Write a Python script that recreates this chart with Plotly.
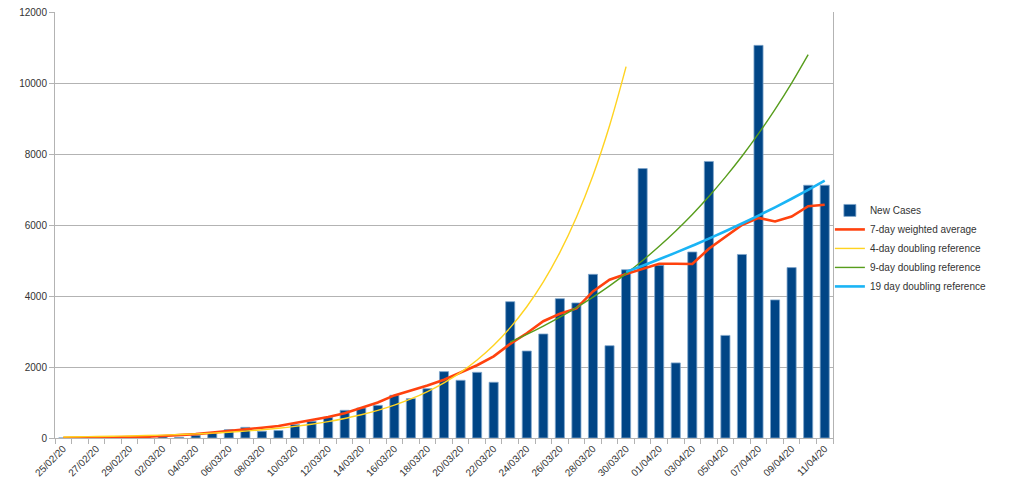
import pandas as pd
import plotly.graph_objects as go

dates = [d.strftime("%Y-%m-%d") for d in pd.date_range("2020-02-25", "2020-04-11", freq="D")]

new_cases = [2, 4, 20, 19, 43, 30, 61, 21, 76, 141, 236, 300, 190, 210, 376, 470, 583, 780, 845, 920,
             1203, 1110, 1390, 1870, 1625, 1850, 1570, 3840, 2450, 2930, 3925, 3805, 4610, 2600, 4740,
             7590, 4865, 2115, 5240, 7790, 2890, 5170, 11060, 3890, 4800, 7120, 7120]

weighted_avg = [2, 5, 12, 18, 25, 35, 55, 75, 110, 150, 190, 240, 290, 340, 420, 500, 590, 700, 840,
                1000, 1200, 1330, 1480, 1640, 1850, 2050, 2300, 2650, 2950, 3290, 3500, 3650, 4130,
                4460, 4620, 4770, 4910, 4910, 4900, 5330, 5660, 6000, 6200, 6100, 6240, 6530, 6570]

ref4_dates = dates[0:35]
ref4 = [29, 34, 41, 49, 58, 69, 82, 97, 116, 137, 163, 194, 231, 275, 327, 389, 462, 550, 654, 777,
        925, 1100, 1308, 1555, 1849, 2199, 2615, 3110, 3698, 4398, 5230, 6220, 7396, 8796, 10460]

ref9_dates = dates[27:46]
ref9 = [2700, 2916, 3150, 3402, 3674, 3968, 4286, 4629, 5000, 5400, 5832, 6299, 6803, 7348, 7936,
        8572, 9258, 9999, 10800]

ref19_dates = dates[34:47]
ref19 = [4680, 4854, 5034, 5221, 5415, 5616, 5825, 6041, 6266, 6499, 6740, 6990, 7250]

fig = go.Figure()
fig.add_trace(go.Bar(x=dates, y=new_cases, name="New Cases",
                     marker=dict(color="#004586", line=dict(color="#7fa6cc", width=0.8))))
fig.add_trace(go.Scatter(x=dates, y=weighted_avg, name="7-day weighted average", mode="lines",
                         line=dict(color="#ff420e", width=2.6)))
fig.add_trace(go.Scatter(x=ref4_dates, y=ref4, name="4-day doubling reference", mode="lines",
                         line=dict(color="#ffd320", width=1.4, shape="spline")))
fig.add_trace(go.Scatter(x=ref9_dates, y=ref9, name="9-day doubling reference", mode="lines",
                         line=dict(color="#579d1c", width=1.4, shape="spline")))
fig.add_trace(go.Scatter(x=ref19_dates, y=ref19, name="19 day doubling reference", mode="lines",
                         line=dict(color="#1ab4f5", width=2.6, shape="spline")))

fig.update_layout(
    width=1009, height=496,
    margin=dict(l=47, r=184, t=4, b=66),
    paper_bgcolor="white", plot_bgcolor="white",
    font=dict(family="Liberation Sans, Arial, sans-serif", size=10, color="#333333"),
    bargap=0.45,
    showlegend=True,
    legend=dict(x=0.996, y=0.445, xanchor="left", yanchor="middle",
                font=dict(size=10, color="#333333"), tracegroupgap=0,
                bgcolor="rgba(0,0,0,0)"),
)
fig.update_xaxes(
    type="date", automargin=False,
    range=["2020-02-24 12:00", "2020-04-11 12:00"],
    tickmode="linear", tick0="2020-02-25", dtick=2 * 86400000,
    tickformat="%d/%m/%y", tickangle=-45, ticklabeloverflow="allow",
    ticks="", ticklen=0,
    tickfont=dict(size=10, color="#333333"),
    showgrid=False, showline=True, linecolor="#b3b3b3", linewidth=1,
    minor=dict(tick0="2020-02-24 12:00", dtick=86400000, ticks="outside", ticklen=5,
               tickcolor="#b3b3b3", tickwidth=1, showgrid=False),
    zeroline=False,
)
fig.update_yaxes(
    automargin=False,
    range=[0, 12000], dtick=2000, tick0=0, tickformat="d", ticklabeloverflow="allow",
    showgrid=True, gridcolor="#b3b3b3", gridwidth=1,
    showline=True, linecolor="#b3b3b3", linewidth=1, mirror=True,
    ticks="outside", ticklen=5, tickcolor="#b3b3b3",
    tickfont=dict(size=10, color="#333333"),
    zeroline=False,
)

fig.write_html("out.html")
